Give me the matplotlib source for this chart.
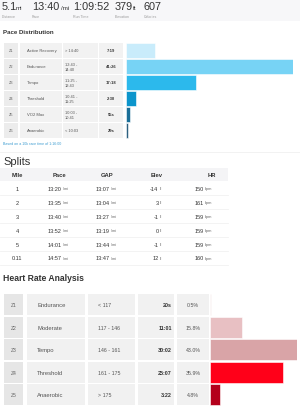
import matplotlib.pyplot as plt
from matplotlib.patches import Rectangle

plt.rcParams['font.family'] = ['Liberation Sans', 'DejaVu Sans']

# summary header
stat_values = ["5.1", "13:40", "1:09:52", "379", "607"]
stat_units = ["mi", "/mi", "", "ft", ""]
stat_labels = ["Distance", "Pace", "Run Time", "Elevation", "Calories"]

# pace distribution
pace_zones = ["Z1", "Z2", "Z3", "Z4", "Z5", "Z6"]
pace_names = ["Active Recovery", "Endurance", "Tempo", "Threshold", "VO2 Max", "Anaerobic"]
pace_ranges = ["> 14:40", "12:43 -\n14:40", "11:25 -\n12:43", "10:41 -\n11:25", "10:03 -\n10:41", "< 10:03"]
pace_times = ["7:19", "41:26", "17:18", "2:30", "55s", "29s"]
pace_colors = ["#c9ecfb", "#77d3f5", "#2cb9ec", "#0b95cc", "#1b6f98", "#2d6180"]

# splits
split_miles = ["1", "2", "3", "4", "5", "0.11"]
split_pace = ["13:20", "13:35", "13:40", "13:52", "14:01", "14:57"]
split_gap = ["13:07", "13:04", "13:27", "13:19", "13:44", "13:47"]
split_elev = [-14, 3, -1, 0, -1, 12]
split_hr = [150, 161, 159, 159, 159, 160]

# heart rate
hr_zones = ["Z1", "Z2", "Z3", "Z4", "Z5"]
hr_names = ["Endurance", "Moderate", "Tempo", "Threshold", "Anaerobic"]
hr_ranges = ["< 117", "117 - 146", "146 - 161", "161 - 175", "> 175"]
hr_times = ["20s", "11:01", "30:02", "25:07", "3:22"]
hr_pct = [0.5, 15.8, 43.0, 35.9, 4.8]
hr_colors = ["#f1dcdd", "#e8c0c3", "#d9a4a7", "#ff0019", "#b4001b"]


def to_sec(t):
    if t.endswith("s"):
        return int(t[:-1])
    m, s = t.split(":")
    return int(m) * 60 + int(s)


W, H = 300, 410
fig = plt.figure(figsize=(W / 100, H / 100), dpi=100)
ax = fig.add_axes([0, 0, 1, 1])
ax.set_xlim(0, W)
ax.set_ylim(H, 0)
ax.axis('off')


def px_axes(x0, y0, x1, y1):
    a = fig.add_axes([x0 / W, 1 - y1 / H, (x1 - x0) / W, (y1 - y0) / H])
    a.axis('off')
    return a


dark = "#333333"
grey = "#9a9a9a"

# header band
ax.add_patch(Rectangle((0, 0), W, 22, color="#f7f7f9", lw=0))
stat_x = [2, 32, 73, 115, 144]
unit_x = [16, 61, None, 133, None]
for v, u, lab, x, ux in zip(stat_values, stat_units, stat_labels, stat_x, unit_x):
    ax.text(x, 10.5, v, fontsize=7.8, color=dark, va='baseline')
    if u:
        ax.text(ux, 10.5, u, fontsize=4.5, color=dark, va='baseline')
    ax.text(x, 16.5, lab, fontsize=2.6, color=grey, va='center')

# pace distribution
ax.text(3, 33, "Pace Distribution", fontsize=4.4, fontweight='bold', color=dark, va='center')
p_top, p_pitch, p_h = 44, 16, 14.5
for i in range(len(pace_zones)):
    y = p_top + i * p_pitch
    cy = y + p_h / 2
    ax.add_patch(Rectangle((4, y), 14, p_h, color="#ececec", lw=0))
    ax.add_patch(Rectangle((20, y), 42, p_h, color="#f2f2f2", lw=0))
    ax.add_patch(Rectangle((63, y), 35, p_h, color="#f2f2f2", lw=0))
    ax.add_patch(Rectangle((99, y), 24, p_h, color="#f2f2f2", lw=0))
    ax.text(11, cy, pace_zones[i], fontsize=2.8, color="#666", ha='center', va='center')
    ax.text(27, cy, pace_names[i], fontsize=3, color="#555", va='center')
    ax.text(65, cy, pace_ranges[i], fontsize=2.8, color="#555", va='center', linespacing=1.2)
    ax.text(111, cy, pace_times[i], fontsize=3, color=dark, fontweight='bold', ha='center', va='center')

pace_sec = [to_sec(t) for t in pace_times]
bx = px_axes(126, p_top, 293, p_top + p_pitch * len(pace_zones))
bx.barh(range(len(pace_sec)), pace_sec, height=p_h / p_pitch, color=pace_colors,
        edgecolor="#ffffff", linewidth=0.4)
bx.set_xlim(0, max(pace_sec))
bx.set_ylim(len(pace_sec) - 0.5 + (p_pitch - p_h) / p_pitch / 2, -0.5 + (p_pitch - p_h) / p_pitch / 2)

ax.text(3, 144, "Based on a 10k race time of 1:16:00", fontsize=2.6, color="#3b9bd0", va='center')
ax.plot([0, W], [152.5, 152.5], color="#f0f0f0", lw=0.6)

# splits
ax.text(3, 165, "Splits", fontsize=8, color=dark, va='baseline')
ax.add_patch(Rectangle((0, 168.5), 228, 13.5, color="#f4f4f6", lw=0))
heads = ["Mile", "Pace", "GAP", "Elev", "HR"]
head_x = [17, 59, 107, 157, 212]
for h, x in zip(heads, head_x):
    ax.text(x, 175.5, h, fontsize=4.2, fontweight='bold', color=dark, ha='center', va='center')

s_top, s_pitch = 189.5, 13.9
for i in range(len(split_miles)):
    cy = s_top + i * s_pitch
    ax.text(17, cy, split_miles[i], fontsize=4, color=dark, ha='center', va='center')
    ax.text(61.5, cy, split_pace[i], fontsize=4, color=dark, ha='right', va='center')
    ax.text(63, cy, "/mi", fontsize=2.8, color="#666", ha='left', va='center')
    ax.text(109.5, cy, split_gap[i], fontsize=4, color=dark, ha='right', va='center')
    ax.text(111, cy, "/mi", fontsize=2.8, color="#666", ha='left', va='center')
    ax.text(158.5, cy, "%d" % split_elev[i], fontsize=4, color=dark, ha='right', va='center')
    ax.text(160, cy, "ft", fontsize=2.8, color="#666", ha='left', va='center')
    ax.text(203.5, cy, "%d" % split_hr[i], fontsize=4, color=dark, ha='right', va='center')
    ax.text(205, cy, "bpm", fontsize=2.8, color="#666", ha='left', va='center')
    ax.plot([0, 228], [cy + s_pitch / 2, cy + s_pitch / 2], color="#eeeeee", lw=0.5)

# heart rate analysis
ax.text(3, 279, "Heart Rate Analysis", fontsize=6.2, fontweight='bold', color=dark, va='center')
h_top, h_pitch, h_h = 295, 22.6, 21
for i in range(len(hr_zones)):
    y = h_top + i * h_pitch
    cy = y + h_h / 2
    ax.add_patch(Rectangle((4, y), 19, h_h, color="#e6e6e6", lw=0))
    ax.add_patch(Rectangle((26.5, y), 58.5, h_h, color="#f1f1f1", lw=0))
    ax.add_patch(Rectangle((88, y), 47, h_h, color="#f1f1f1", lw=0))
    ax.add_patch(Rectangle((138, y), 35.5, h_h, color="#f1f1f1", lw=0))
    ax.add_patch(Rectangle((176.5, y), 32, h_h, color="#f1f1f1", lw=0))
    ax.text(13.5, cy, hr_zones[i], fontsize=3.6, color="#666", ha='center', va='center')
    ax.text(37, cy, hr_names[i], fontsize=4.2, color="#555", va='center')
    ax.text(98, cy, hr_ranges[i], fontsize=3.8, color="#555", va='center')
    ax.text(172, cy, hr_times[i], fontsize=3.9, color=dark, fontweight='bold', ha='right', va='center')
    ax.text(193, cy, "%.1f%%" % hr_pct[i], fontsize=3.8, color="#555", ha='center', va='center')

hx = px_axes(210, h_top, 297, h_top + h_pitch * len(hr_zones))
hx.barh(range(len(hr_pct)), hr_pct, height=h_h / h_pitch, color=hr_colors,
        edgecolor="#ffffff", linewidth=0.4)
hx.set_xlim(0, max(hr_pct))
hx.set_ylim(len(hr_pct) - 0.5 + (h_pitch - h_h) / h_pitch / 2, -0.5 + (h_pitch - h_h) / h_pitch / 2)

fig.savefig("out.png", dpi=100, facecolor="white")
